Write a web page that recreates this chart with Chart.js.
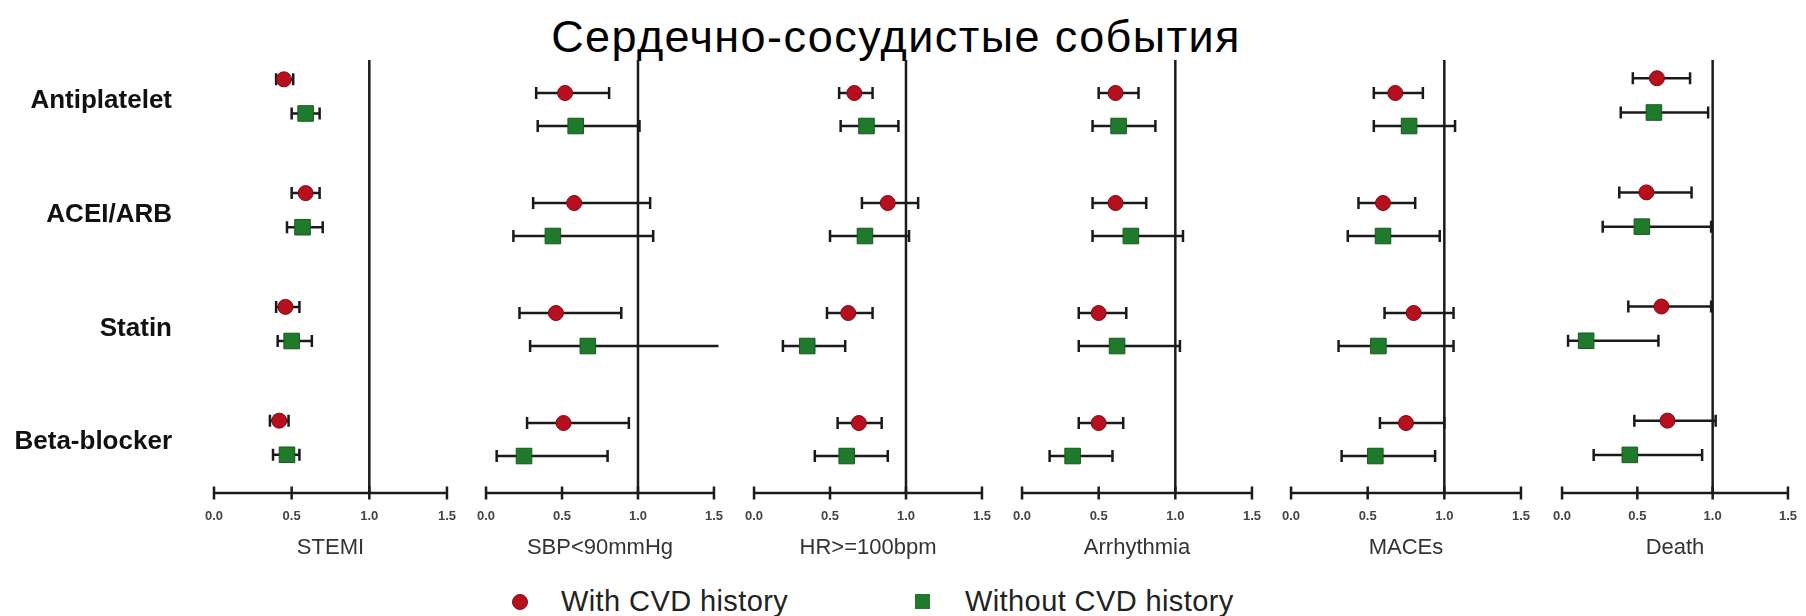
<!DOCTYPE html>
<html>
<head>
<meta charset="utf-8">
<script src="https://cdn.jsdelivr.net/npm/chart.js@4.4.1/dist/chart.umd.min.js"></script>
<style>
  html, body { margin: 0; padding: 0; background: #fff; }
  #wrap { position: relative; width: 1806px; height: 616px; overflow: hidden; font-family: "Liberation Sans", Arial, sans-serif; }
  .panel { position: absolute; top: 0; }
  #title { position: absolute; left: 0; width: 1792px; top: 14px; text-align: center; font-size: 45px; line-height: 45px; letter-spacing: 1.4px; color: #000; white-space: nowrap; }
  .legtext { position: absolute; top: 587px; font-size: 29px; line-height: 29px; letter-spacing: 0.4px; color: #222; white-space: nowrap; }
  .mk { position: absolute; }
</style>
</head>
<body>
<div id="wrap">
  <div id="title">Сердечно-сосудистые события</div>
  <div class="mk" id="mkWith" style="left:512px;top:594px;width:16px;height:16px;border-radius:50%;background:#b80f1e;box-sizing:border-box;border:1px solid #7a0a12;"></div>
  <div class="legtext" id="legWith" style="left:561px;"></div>
  <div class="mk" id="mkWithout" style="left:915px;top:594px;width:15px;height:15px;background:#207a2c;"></div>
  <div class="legtext" id="legWithout" style="left:965px;"></div>
</div>
<script>
// ---------- data ----------
const rowLabels = ['Antiplatelet', 'ACEI/ARB', 'Statin', 'Beta-blocker'];
const outcomes = ['STEMI', 'SBP<90mmHg', 'HR>=100bpm', 'Arrhythmia', 'MACEs', 'Death'];
const seriesNames = ['With CVD history', 'Without CVD history'];
const tickValues = [0, 0.5, 1.0, 1.5];
const tickLabels = ['0.0', '0.5', '1.0', '1.5'];
const refValue = 1.0;

// each row: [estimate, lower CI, upper CI]
const stemiWith      = [[0.45, 0.40, 0.51], [0.59, 0.50, 0.68], [0.46, 0.40, 0.55], [0.42, 0.36, 0.48]];
const stemiWithout   = [[0.59, 0.50, 0.68], [0.57, 0.47, 0.70], [0.50, 0.41, 0.63], [0.47, 0.38, 0.55]];
const sbpWith        = [[0.52, 0.33, 0.81], [0.58, 0.31, 1.08], [0.46, 0.22, 0.89], [0.51, 0.27, 0.94]];
const sbpWithout     = [[0.59, 0.34, 1.01], [0.44, 0.18, 1.10], [0.67, 0.29, 1.53], [0.25, 0.07, 0.80]];
const hrWith         = [[0.66, 0.56, 0.78], [0.88, 0.71, 1.08], [0.62, 0.48, 0.78], [0.69, 0.55, 0.84]];
const hrWithout      = [[0.74, 0.57, 0.95], [0.73, 0.50, 1.02], [0.35, 0.19, 0.60], [0.61, 0.40, 0.88]];
const arrWith        = [[0.61, 0.50, 0.76], [0.61, 0.46, 0.81], [0.50, 0.37, 0.68], [0.50, 0.37, 0.66]];
const arrWithout     = [[0.63, 0.46, 0.87], [0.71, 0.46, 1.05], [0.62, 0.37, 1.03], [0.33, 0.18, 0.59]];
const macesWith      = [[0.68, 0.54, 0.86], [0.60, 0.44, 0.81], [0.80, 0.61, 1.06], [0.75, 0.58, 1.00]];
const macesWithout   = [[0.77, 0.54, 1.07], [0.60, 0.37, 0.97], [0.57, 0.31, 1.06], [0.55, 0.33, 0.94]];
const deathWith      = [[0.63, 0.47, 0.85], [0.56, 0.38, 0.86], [0.66, 0.44, 0.99], [0.70, 0.48, 1.02]];
const deathWithout   = [[0.61, 0.39, 0.97], [0.53, 0.27, 0.99], [0.16, 0.04, 0.64], [0.45, 0.21, 0.93]];

const withSets = [stemiWith, sbpWith, hrWith, arrWith, macesWith, deathWith];
const withoutSets = [stemiWithout, sbpWithout, hrWithout, arrWithout, macesWithout, deathWithout];

// ---------- layout / style ----------
const FONT = '"Liberation Sans", Arial, sans-serif';
const panelLayout = [
  { x0: 214,  x1: 452,  yMin: -0.17, yMax: 3.636 },
  { x0: 481,  x1: 719,  yMin: -0.30, yMax: 3.636 },
  { x0: 749,  x1: 987,  yMin: -0.30, yMax: 3.636 },
  { x0: 1017, x1: 1257, yMin: -0.30, yMax: 3.636 },
  { x0: 1286, x1: 1526, yMin: -0.30, yMax: 3.636 },
  { x0: 1557, x1: 1793, yMin: -0.16, yMax: 3.634 }
];
const SIDE = 20, TOP = 60, H = 616, XAXIS_H = 123;
const greenOffset = 0.3, labelOffset = 0.19;
const RED = '#b80f1e', RED_B = '#7a0a12', GREEN = '#207a2c', GREEN_B = '#155a1d', INK = '#1a1a1a';

document.getElementById('legWith').textContent = seriesNames[0];
document.getElementById('legWithout').textContent = seriesNames[1];

const forestPlugin = {
  id: 'forest',
  beforeDatasetsDraw(chart) {
    const { ctx, chartArea, scales: { x, y } } = chart;
    ctx.save();
    ctx.strokeStyle = INK;
    ctx.lineWidth = 2.5;
    ctx.lineCap = 'butt';
    // reference line
    const rx = x.getPixelForValue(refValue);
    ctx.beginPath();
    ctx.moveTo(rx, chartArea.top);
    ctx.lineTo(rx, chartArea.bottom);
    ctx.stroke();
    // x axis line with crossing ticks
    const ay = chartArea.bottom;
    ctx.beginPath();
    ctx.moveTo(x.getPixelForValue(x.min) - 1, ay);
    ctx.lineTo(x.getPixelForValue(x.max) + 1, ay);
    x.ticks.forEach(t => {
      const tx = x.getPixelForValue(t.value);
      ctx.moveTo(tx, ay - 6.5);
      ctx.lineTo(tx, ay + 6.5);
    });
    ctx.stroke();
    // confidence intervals
    chart.data.datasets.forEach(ds => {
      ds.data.forEach(p => {
        const py = y.getPixelForValue(p.y);
        const lx = x.getPixelForValue(p.lo);
        const hx = x.getPixelForValue(p.hi);
        ctx.beginPath();
        ctx.moveTo(lx, py);
        ctx.lineTo(hx, py);
        ctx.moveTo(lx, py - 6);
        ctx.lineTo(lx, py + 6);
        if (p.hi <= x.max) {
          ctx.moveTo(hx, py - 6);
          ctx.lineTo(hx, py + 6);
        }
        ctx.stroke();
      });
    });
    ctx.restore();
  }
};

const wrap = document.getElementById('wrap');
outcomes.forEach((name, k) => {
  const L = panelLayout[k];
  const first = k === 0;
  const left = first ? 0 : L.x0 - SIDE;
  const width = L.x1 + SIDE - left;
  const canvas = document.createElement('canvas');
  canvas.className = 'panel';
  canvas.width = width;
  canvas.height = H;
  canvas.style.left = left + 'px';
  canvas.style.width = width + 'px';
  canvas.style.height = H + 'px';
  wrap.appendChild(canvas);

  const toPts = (arr, off) => arr.map((r, i) => ({ x: r[0], y: i + off, lo: r[1], hi: r[2] }));

  const yScale = {
    type: 'linear',
    reverse: true,
    min: L.yMin,
    max: L.yMax,
    display: first,
    grid: { display: false, drawTicks: false },
    border: { display: false },
    ticks: {
      autoSkip: false,
      padding: 42,
      color: '#111',
      font: { family: FONT, size: 26, weight: 'bold' },
      callback: (v, i) => rowLabels[i]
    }
  };
  if (first) {
    yScale.afterBuildTicks = s => { s.ticks = rowLabels.map((r, i) => ({ value: i + labelOffset })); };
    yScale.afterFit = s => { s.width = L.x0; };
  }

  new Chart(canvas, {
    type: 'scatter',
    data: {
      datasets: [
        {
          label: seriesNames[0],
          data: toPts(withSets[k], 0),
          pointStyle: 'circle',
          pointRadius: 7.5,
          pointHoverRadius: 7.5,
          backgroundColor: RED,
          borderColor: RED_B,
          borderWidth: 1
        },
        {
          label: seriesNames[1],
          data: toPts(withoutSets[k], greenOffset),
          pointStyle: 'rect',
          pointRadius: 11,
          pointHoverRadius: 11,
          backgroundColor: GREEN,
          borderColor: GREEN_B,
          borderWidth: 1
        }
      ]
    },
    options: {
      responsive: false,
      animation: false,
      devicePixelRatio: 1,
      layout: { padding: { left: first ? 0 : SIDE, right: SIDE, top: TOP, bottom: 0 } },
      plugins: { legend: { display: false }, tooltip: { enabled: false } },
      scales: {
        x: {
          type: 'linear',
          min: 0,
          max: 1.5,
          grid: { display: false, drawTicks: false },
          border: { display: false },
          afterBuildTicks: s => { s.ticks = tickValues.map(v => ({ value: v })); },
          afterFit: s => { s.height = XAXIS_H; },
          ticks: {
            autoSkip: false,
            maxRotation: 0,
            padding: 16,
            color: '#444',
            font: { family: FONT, size: 13, weight: 'bold' },
            callback: (v, i) => tickLabels[i]
          },
          title: {
            display: true,
            text: name,
            color: '#333',
            font: { family: FONT, size: 22 },
            padding: { top: 0, bottom: 55 }
          }
        },
        y: yScale
      }
    },
    plugins: [forestPlugin]
  });
});
</script>
</body>
</html>
